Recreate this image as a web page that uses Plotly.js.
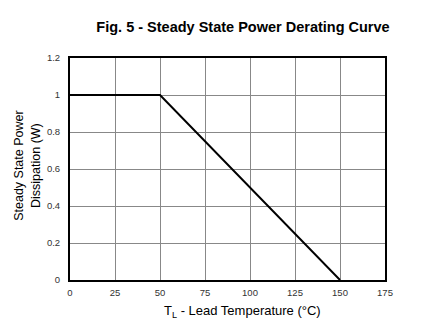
<!DOCTYPE html>
<html>
<head>
<meta charset="utf-8">
<script src="https://cdn.plot.ly/plotly-3.0.1.min.js"></script>
<style>html,body{margin:0;padding:0;background:#fff;}#chart{width:428px;height:330px;}</style>
</head>
<body>
<div id="chart"></div>
<script>
var temperature = [0, 50, 150];
var power = [1, 1, 0];
var xTicks = [0, 25, 50, 75, 100, 125, 150, 175];
var yTicks = [0, 0.2, 0.4, 0.6, 0.8, 1, 1.2];
var yTickText = ['0', '0.2', '0.4', '0.6', '0.8', '1', '1.2'];
var xTitle = 'T<sub>L</sub> - Lead Temperature (°C)';
var yTitle = 'Steady State Power<br>Dissipation (W)';

var trace = {
  x: temperature, y: power, mode: 'lines', type: 'scatter',
  line: {color: '#000', width: 2}, hoverinfo: 'skip'
};
var layout = {
  width: 428, height: 330,
  margin: {l: 70, r: 43, t: 58, b: 50},
  paper_bgcolor: '#fff', plot_bgcolor: '#fff',
  showlegend: false,
  font: {family: 'Liberation Sans, Arial, sans-serif', color: '#000'},
  title: {
    text: '<b>Fig. 5 - Steady State Power Derating Curve</b>',
    font: {size: 14.5, color: '#000', family: 'Liberation Sans, Arial, sans-serif'},
    x: 243/428, xanchor: 'center', y: 1 - 27/330, yanchor: 'middle'
  },
  xaxis: {
    range: [0, 175], tickvals: xTicks, ticktext: xTicks.map(String),
    showgrid: true, gridcolor: '#888', gridwidth: 1,
    showline: true, linecolor: '#000', linewidth: 2, mirror: true,
    zeroline: false, ticks: '', ticklen: 0, ticklabelstandoff: 3,
    tickfont: {size: 9.5, color: '#333'}
  },
  yaxis: {
    range: [0, 1.2], tickvals: yTicks, ticktext: yTickText,
    showgrid: true, gridcolor: '#888', gridwidth: 1,
    showline: true, linecolor: '#000', linewidth: 2, mirror: true,
    zeroline: false, ticks: '', ticklen: 0, ticklabelstandoff: 6,
    tickfont: {size: 9.5, color: '#333'}
  },
  annotations: [
    {text: xTitle, xref: 'paper', yref: 'paper', x: 0.549, y: -0.144,
     xanchor: 'center', yanchor: 'middle', showarrow: false,
     font: {size: 13, color: '#000'}},
    {text: yTitle, xref: 'paper', yref: 'paper', x: -0.136, y: 0.515,
     xanchor: 'center', yanchor: 'middle', showarrow: false, textangle: -90,
     font: {size: 12.5, color: '#000'}}
  ]
};
Plotly.newPlot('chart', [trace], layout, {displayModeBar: false, staticPlot: true});
</script>
</body>
</html>
